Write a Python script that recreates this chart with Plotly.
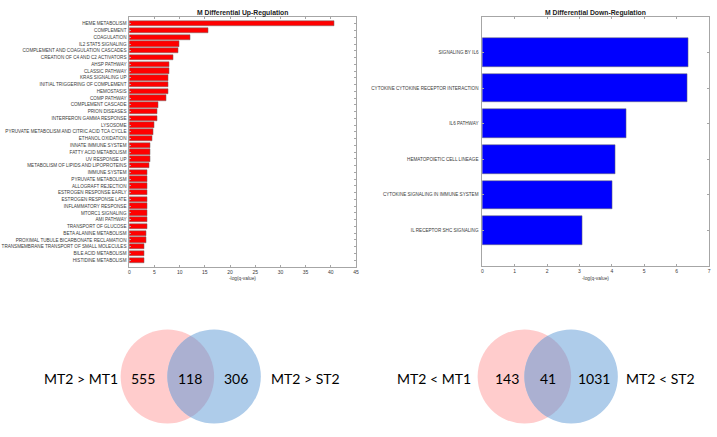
import numpy as np
import plotly.graph_objects as go

W, H = 717, 437

up_terms = [
    "HEME METABOLISM", "COMPLEMENT", "COAGULATION", "IL2 STAT5 SIGNALING",
    "COMPLEMENT AND COAGULATION CASCADES", "CREATION OF C4 AND C2 ACTIVATORS",
    "AHSP PATHWAY", "CLASSIC PATHWAY", "KRAS SIGNALING UP",
    "INITIAL TRIGGERING OF COMPLEMENT", "HEMOSTASIS", "COMP PATHWAY",
    "COMPLEMENT CASCADE", "PRION DISEASES", "INTERFERON GAMMA RESPONSE",
    "LYSOSOME", "PYRUVATE METABOLISM AND CITRIC ACID TCA CYCLE",
    "ETHANOL OXIDATION", "INNATE IMMUNE SYSTEM", "FATTY ACID METABOLISM",
    "UV RESPONSE UP", "METABOLISM OF LIPIDS AND LIPOPROTEINS", "IMMUNE SYSTEM",
    "PYRUVATE METABOLISM", "ALLOGRAFT REJECTION", "ESTROGEN RESPONSE EARLY",
    "ESTROGEN RESPONSE LATE", "INFLAMMATORY RESPONSE", "MTORC1 SIGNALING",
    "AMI PATHWAY", "TRANSPORT OF GLUCOSE", "BETA ALANINE METABOLISM",
    "PROXIMAL TUBULE BICARBONATE RECLAMATION",
    "TRANSMEMBRANE TRANSPORT OF SMALL MOLECULES", "BILE ACID METABOLISM",
    "HISTIDINE METABOLISM",
]
up_values = [
    40.6, 15.6, 12.2, 10.0, 9.7, 8.7, 8.0, 7.9, 7.8, 7.75, 7.7, 7.35,
    5.8, 5.65, 5.6, 4.95, 4.85, 4.5, 4.2, 4.15, 4.1, 3.95, 3.62, 3.61,
    3.6, 3.6, 3.6, 3.58, 3.57, 3.55, 3.5, 3.35, 3.3, 3.0, 3.0, 2.98,
]

down_terms = [
    "SIGNALING BY IL6", "CYTOKINE CYTOKINE RECEPTOR INTERACTION", "IL6 PATHWAY",
    "HEMATOPOIETIC CELL LINEAGE", "CYTOKINE SIGNALING IN IMMUNE SYSTEM",
    "IL RECEPTOR SHC SIGNALING",
]
down_values = [6.35, 6.34, 4.45, 4.1, 4.0, 3.08]

up_ticks = [0, 5, 10, 15, 20, 25, 30, 35, 40, 45]
down_ticks = [0, 1, 2, 3, 4, 5, 6, 7]

venn_up_sets = ["MT2 > MT1", "MT2 > ST2"]
venn_up_counts = [555, 118, 306]
venn_down_sets = ["MT2 < MT1", "MT2 < ST2"]
venn_down_counts = [143, 41, 1031]

AX = "#a6a6a6"
TXT = "#3a3a3a"
FONT = "Liberation Sans, Arial, sans-serif"

fig = go.Figure()

up_y = list(range(1, len(up_terms) + 1))
down_y = list(range(1, len(down_terms) + 1))

fig.add_trace(go.Bar(
    x=up_values, y=up_y, orientation="h", width=0.8,
    marker=dict(color="#ff0000", line=dict(color="#6a6a6a", width=0.5)),
    xaxis="x", yaxis="y", showlegend=False))
fig.add_trace(go.Bar(
    x=down_values, y=down_y, orientation="h", width=0.8,
    marker=dict(color="#0000ff", line=dict(color="#6a6a6a", width=0.5)),
    xaxis="x2", yaxis="y2", showlegend=False))

def px_dom(a, b, total):
    return [a / total, b / total]

common_ax = dict(showline=True, linecolor=AX, linewidth=0.7, mirror="ticks",
                 ticks="inside", ticklen=2, tickcolor=AX, tickwidth=0.6,
                 showgrid=False, zeroline=False, fixedrange=True)

fig.update_layout(
    xaxis=dict(domain=px_dom(129, 357, W), range=[0, 45], tickvals=up_ticks,
               tickfont=dict(size=5, color=TXT, family=FONT), anchor="y",
               **common_ax),
    yaxis=dict(domain=[1 - 267 / H, 1 - 17 / H], range=[37, 0],
               tickvals=up_y, ticktext=up_terms,
               tickfont=dict(size=4.6, color=TXT, family=FONT), anchor="x",
               ticklabelstandoff=1, **common_ax),
    xaxis2=dict(domain=px_dom(484, 712, W), range=[0, 7], tickvals=down_ticks,
                tickfont=dict(size=5, color=TXT, family=FONT), anchor="y2",
                **common_ax),
    yaxis2=dict(domain=[1 - 266 / H, 1 - 17 / H], range=[7, 0],
                tickvals=down_y, ticktext=down_terms,
                tickfont=dict(size=4.6, color=TXT, family=FONT), anchor="x2",
                ticklabelstandoff=2, **common_ax),
    xaxis3=dict(domain=[0, 1], range=[0, W], visible=False, fixedrange=True,
                anchor="y3"),
    yaxis3=dict(domain=[0, 1], range=[H, 0], visible=False, fixedrange=True,
                anchor="x3"),
    width=W, height=H, margin=dict(l=0, r=0, t=0, b=0),
    paper_bgcolor="white", plot_bgcolor="rgba(0,0,0,0)",
    bargap=0,
)

# titles and axis labels
for cx, title in [((129 + 357) / 2, "M Differential Up-Regulation"),
                  ((484 + 712) / 2, "M Differential Down-Regulation")]:
    fig.add_annotation(x=cx, y=13, xref="x3", yref="y3", text="<b>" + title + "</b>",
                       showarrow=False, font=dict(size=6.8, color="#222222", family=FONT))
    fig.add_annotation(x=cx, y=278.5, xref="x3", yref="y3", text="-log(q-value)",
                       showarrow=False, font=dict(size=4.8, color=TXT, family=FONT))

# Venn diagrams
PINK = "rgb(255,204,204)"
BLUE = "rgb(174,204,234)"
OVER = "rgb(171,176,209)"
R = 47.0
VFONT = dict(size=14, color="black", family="Lato, Open Sans, sans-serif")

def lens_path(c1, c2, r):
    d = c2[0] - c1[0]
    half = np.arccos(d / 2 / r)
    t1 = np.linspace(-half, half, 60)
    pts = [(c1[0] + r * np.cos(t), c1[1] + r * np.sin(t)) for t in t1]
    t2 = np.linspace(np.pi - half, np.pi + half, 60)
    pts += [(c2[0] + r * np.cos(t), c2[1] + r * np.sin(t)) for t in t2]
    return "M " + " L ".join(f"{x:.2f},{y:.2f}" for x, y in pts) + " Z"

for left_cx, sets, counts, lab_x, num_x in [
        (167.3, venn_up_sets, venn_up_counts, (80, 306), (142.5, 190, 236)),
        (526.3, venn_down_sets, venn_down_counts, (435, 663), (509, 550, 596))]:
    cy = 376.5
    c1 = (left_cx, cy)
    c2 = (left_cx + R, cy)
    for c, col in [(c1, PINK), (c2, BLUE)]:
        fig.add_shape(type="circle", xref="x3", yref="y3",
                      x0=c[0] - R, x1=c[0] + R, y0=c[1] - R, y1=c[1] + R,
                      fillcolor=col, line=dict(width=0), layer="below")
    fig.add_shape(type="path", xref="x3", yref="y3", path=lens_path(c1, c2, R),
                  fillcolor=OVER, line=dict(width=0), layer="below")
    for lx, s in zip(lab_x, sets):
        fig.add_annotation(x=lx, y=cy + 2, xref="x3", yref="y3", text=s,
                           showarrow=False, font=VFONT)
    for nx, n in zip(num_x, counts):
        fig.add_annotation(x=nx, y=cy + 2, xref="x3", yref="y3", text=str(n),
                           showarrow=False, font=VFONT)

fig.write_html("out.html")
